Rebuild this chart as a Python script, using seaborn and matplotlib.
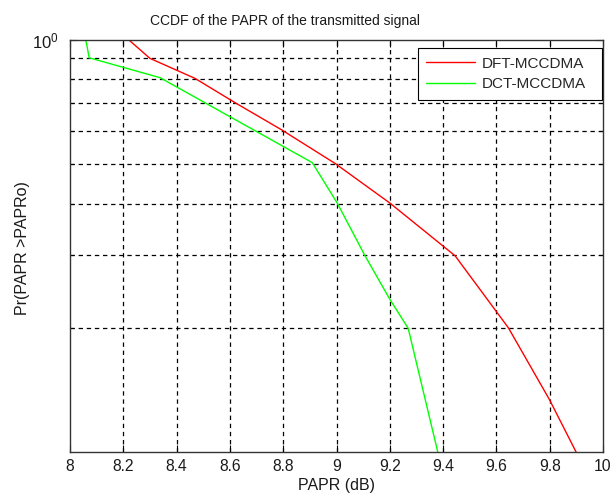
import matplotlib
matplotlib.use("Agg")
import matplotlib.pyplot as plt
import seaborn as sns
import pandas as pd
import numpy as np

# Data
dft_papr = [8.219, 8.300, 8.469, 8.619, 8.794, 8.994, 9.201, 9.445, 9.645, 9.799, 9.899]
dft_ccdf = [1.000, 0.900, 0.805, 0.703, 0.604, 0.501, 0.401, 0.299, 0.200, 0.134, 0.100]
dct_papr = [8.059, 8.072, 8.338, 8.600, 8.909, 9.003, 9.107, 9.201, 9.269, 9.380]
dct_ccdf = [1.000, 0.903, 0.808, 0.650, 0.503, 0.401, 0.299, 0.234, 0.1995, 0.100]
series_names = ["DFT-MCCDMA", "DCT-MCCDMA"]
x_ticks = [8, 8.2, 8.4, 8.6, 8.8, 9, 9.2, 9.4, 9.6, 9.8, 10]
x_tick_labels = ["8", "8.2", "8.4", "8.6", "8.8", "9", "9.2", "9.4", "9.6", "9.8", "10"]
y_grid = [0.2, 0.3, 0.4, 0.5, 0.6, 0.7, 0.8, 0.9]

df = pd.concat([
    pd.DataFrame({"PAPR": dft_papr, "CCDF": dft_ccdf, "series": series_names[0]}),
    pd.DataFrame({"PAPR": dct_papr, "CCDF": dct_ccdf, "series": series_names[1]}),
], ignore_index=True)

sns.set_theme(style="ticks")
plt.rcParams["font.family"] = ["Liberation Sans", "DejaVu Sans"]
plt.rcParams["mathtext.fontset"] = "custom"
plt.rcParams["mathtext.rm"] = "Liberation Sans"
plt.rcParams["mathtext.it"] = "Liberation Sans"

W, H = 611, 496
fig = plt.figure(figsize=(W / 100, H / 100), dpi=100)
ax = fig.add_axes([70 / W, 1 - 452 / H, 533 / W, 412.5 / H])

sns.lineplot(data=df, x="PAPR", y="CCDF", hue="series",
             palette={"DFT-MCCDMA": "#ff0000", "DCT-MCCDMA": "#00ff00"},
             sort=False, estimator=None, linewidth=1.0, ax=ax)

ax.set_yscale("log")
ax.set_xlim(8, 10)
ax.set_ylim(0.1, 1.0)

txt = "#1a1a1a"
ax.set_xticks(x_ticks)
ax.set_xticklabels(x_tick_labels, fontsize=11.3, color=txt)
ax.set_yticks([1.0])
ax.set_yticklabels([r"$\mathregular{10^0}$"], fontsize=12, color=txt)
ax.set_yticks(y_grid, minor=True)
ax.yaxis.set_minor_formatter(matplotlib.ticker.NullFormatter())

ax.tick_params(axis="both", which="both", direction="in", top=True, right=True,
               colors="black", width=0.8)
ax.tick_params(axis="x", which="major", length=5, pad=5, labelcolor=txt)
ax.tick_params(axis="y", which="major", length=5, pad=8, labelcolor=txt)
ax.tick_params(axis="y", which="minor", length=3)

ax.grid(False)
for xv in x_ticks[1:-1]:
    ax.axvline(xv, color="black", linestyle=(0, (3.5, 3)), linewidth=0.9, zorder=0)
for yv in y_grid:
    ax.axhline(yv, color="black", linestyle=(0, (3.5, 3)), linewidth=0.9, zorder=0)

for s in ax.spines.values():
    s.set_color("#333333")
    s.set_linewidth(1.0)

fig.text(285.5 / W, 1 - 21.5 / H, "CCDF of the PAPR of the transmitted signal",
         fontsize=10, color=txt, ha="center", va="center")
ax.set_xlabel("PAPR (dB)", fontsize=11.5, color=txt, labelpad=3)
ax.set_ylabel("Pr(PAPR >PAPRo)", fontsize=11.5, color=txt)
ax.yaxis.set_label_coords((30 - 70) / 533, 0.494)

x0 = (418 - 70) / 533
wdt = (601.7 - 418) / 533
ytop = 1 - (48.3 - 39.5) / 412.5
leg = ax.legend(title=None, loc="upper left", mode="expand",
                bbox_to_anchor=(x0, ytop - 0.2, wdt, 0.2),
                borderaxespad=0, fontsize=11, frameon=True, fancybox=False,
                edgecolor="black", framealpha=1, handlelength=3.2, handletextpad=0.4,
                borderpad=0.55, labelspacing=0.42)
leg.get_frame().set_linewidth(0.8)

fig.savefig("out.png", dpi=100)
